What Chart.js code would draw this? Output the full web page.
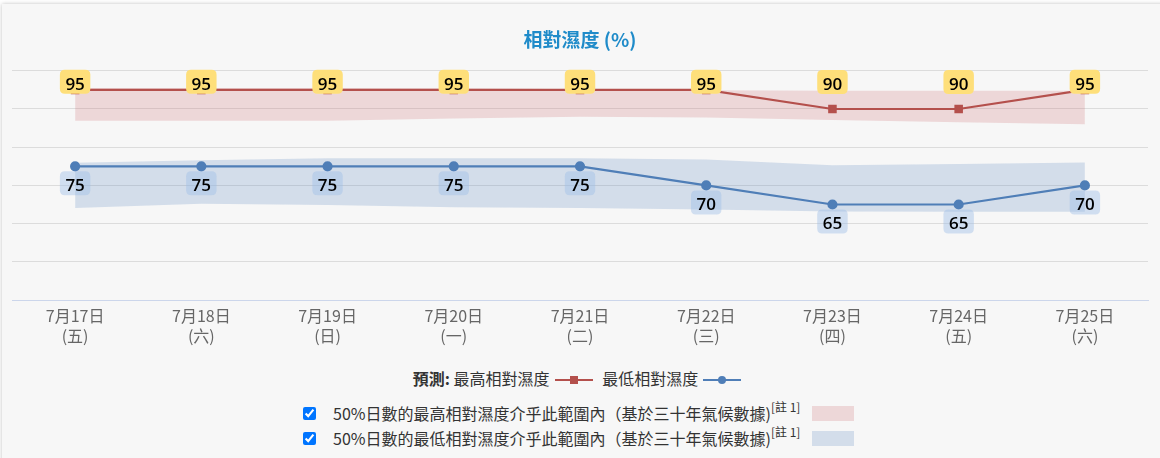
<!DOCTYPE html>
<html>
<head>
<meta charset="utf-8">
<script src="https://cdn.jsdelivr.net/npm/chart.js@4.4.1/dist/chart.umd.min.js"></script>
<style>
    body { margin: 0; background: #fff; width: 1160px; height: 458px; overflow: hidden; position: relative; font-family: "Noto Sans CJK TC", "Noto Sans", sans-serif; }
    #panel { position: absolute; left: 2px; top: 4px; width: 1200px; height: 480px; background: #f7f7f7; box-shadow: 0 0 4px rgba(0,0,0,0.25); }
    #chart-wrap { position: absolute; left: 0; top: 0; width: 1160px; height: 357px; }
    #legend-main { position: absolute; left: 0; top: 367px; width: 1160px; text-align: center; font-size: 16px; line-height: 22px; color: #333; }
    #legend-main b { font-weight: bold; }
    .sym { display: inline-block; position: relative; width: 38px; height: 2px; vertical-align: middle; margin: 0 6px 0 5px; top: -1px; }
    .sym i { position: absolute; left: 15px; top: -3px; width: 8px; height: 8px; }
    .sym.blue i { border-radius: 50%; }
    .band-row { position: absolute; left: 301px; height: 24px; font-size: 16px; line-height: 24px; color: #333; white-space: nowrap; }
    .band-row input { margin: 0 17px 0 2px; width: 13px; height: 13px; vertical-align: middle; position: relative; top: -2px; }
    .band-row sup { font-size: 12px; position: relative; top: -2px; }
    .swatch { display: inline-block; width: 42px; height: 15px; vertical-align: middle; margin-left: 12px; position: relative; top: -2px; }
</style>
</head>
<body>
<div id="panel"></div>
<div id="chart-wrap"><canvas id="rhChart" width="1160" height="357"></canvas></div>
<div id="legend-main">
    <b>預測:</b> 最高相對濕度<span class="sym red"><i></i></span> 最低相對濕度<span class="sym blue"><i></i></span>
</div>
<div class="band-row" style="top: 397px;"><input type="checkbox" checked>50%日數的最高相對濕度介乎此範圍內（基於三十年氣候數據)<sup>[註 1]</sup><span class="swatch" id="sw-max"></span></div>
<div class="band-row" style="top: 422px;"><input type="checkbox" checked>50%日數的最低相對濕度介乎此範圍內（基於三十年氣候數據)<sup>[註 1]</sup><span class="swatch" id="sw-min"></span></div>

<script>
const dates = ['7月17日', '7月18日', '7月19日', '7月20日', '7月21日', '7月22日', '7月23日', '7月24日', '7月25日'];
const weekdays = ['(五)', '(六)', '(日)', '(一)', '(二)', '(三)', '(四)', '(五)', '(六)'];

const maxRH = [95, 95, 95, 95, 95, 95, 90, 90, 95];
const minRH = [75, 75, 75, 75, 75, 70, 65, 65, 70];

// 50% climate ranges
const maxBandHigh = [95.5, 95.5, 95.5, 95.4, 95.2, 94.9, 94.8, 94.8, 94.8];
const maxBandLow = [86.9, 86.9, 86.9, 87.5, 88.0, 87.8, 87.1, 86.5, 86.0];
const minBandHigh = [75.9, 76.6, 77.1, 77.1, 77.1, 76.8, 75.3, 75.6, 76.0];
const minBandLow = [64.1, 65.2, 64.9, 64.3, 64.1, 63.7, 63.2, 63.1, 63.1];

const yTicks = [40, 50, 60, 70, 80, 90, 100];

const RED = '#b4504c';
const BLUE = '#4f7eb7';
const RED_BAND = 'rgba(200, 90, 95, 0.2)';
const BLUE_BAND = 'rgba(72, 122, 187, 0.2)';

document.querySelector('.sym.red').style.background = RED;
document.querySelector('.sym.red i').style.background = RED;
document.querySelector('.sym.blue').style.background = BLUE;
document.querySelector('.sym.blue i').style.background = BLUE;
document.getElementById('sw-max').style.background = RED_BAND;
document.getElementById('sw-min').style.background = BLUE_BAND;

function roundRect(ctx, x, y, w, h, r) {
    ctx.beginPath();
    ctx.moveTo(x + r, y);
    ctx.lineTo(x + w - r, y);
    ctx.quadraticCurveTo(x + w, y, x + w, y + r);
    ctx.lineTo(x + w, y + h - r);
    ctx.quadraticCurveTo(x + w, y + h, x + w - r, y + h);
    ctx.lineTo(x + r, y + h);
    ctx.quadraticCurveTo(x, y + h, x, y + h - r);
    ctx.lineTo(x, y + r);
    ctx.quadraticCurveTo(x, y, x + r, y);
    ctx.closePath();
}

// value boxes: yellow above the max line, light blue below the min line
const valueLabels = {
    id: 'valueLabels',
    afterDatasetsDraw(chart) {
        const ctx = chart.ctx;
        const top = chart.chartArea.top;
        ctx.save();
        ctx.font = '600 17px "Open Sans", "Noto Sans", sans-serif';
        ctx.textAlign = 'center';
        ctx.textBaseline = 'middle';
        chart.data.datasets.forEach((ds, i) => {
            if (!ds.valueBox) return;
            const meta = chart.getDatasetMeta(i);
            meta.data.forEach((pt, j) => {
                const txt = String(ds.data[j]);
                const w = ctx.measureText(txt).width + 11;
                let boxTop;
                if (ds.valueBox === 'above') {
                    boxTop = Math.max(pt.y - 39, top - 1);
                } else {
                    boxTop = pt.y + 5;
                }
                ctx.fillStyle = ds.valueBoxColor;
                roundRect(ctx, pt.x - w / 2, boxTop, w, 24, 5);
                ctx.fill();
                ctx.fillStyle = '#000';
                ctx.fillText(txt, pt.x, boxTop + 15);
            });
        });
        ctx.restore();
    }
};

const ctx = document.getElementById('rhChart').getContext('2d');
new Chart(ctx, {
    type: 'line',
    data: {
        labels: dates.map((d, i) => [d, weekdays[i]]),
        datasets: [
            {
                label: '最高相對濕度',
                data: maxRH,
                borderColor: RED,
                backgroundColor: RED,
                borderWidth: 2.2,
                pointStyle: 'rect',
                pointRadius: 4.5,
                fill: false,
                order: 1,
                valueBox: 'above',
                valueBoxColor: '#fedf7a'
            },
            {
                label: '最低相對濕度',
                data: minRH,
                borderColor: BLUE,
                backgroundColor: BLUE,
                borderWidth: 2.2,
                pointStyle: 'circle',
                pointRadius: 4,
                fill: false,
                order: 1,
                valueBox: 'below',
                valueBoxColor: 'rgba(160, 190, 230, 0.45)'
            },
            {
                label: 'maxBandHigh',
                data: maxBandHigh,
                borderWidth: 0,
                pointRadius: 0,
                backgroundColor: RED_BAND,
                fill: '+1',
                order: 10
            },
            {
                label: 'maxBandLow',
                data: maxBandLow,
                borderWidth: 0,
                pointRadius: 0,
                fill: false,
                order: 10
            },
            {
                label: 'minBandHigh',
                data: minBandHigh,
                borderWidth: 0,
                pointRadius: 0,
                backgroundColor: BLUE_BAND,
                fill: '+1',
                order: 10
            },
            {
                label: 'minBandLow',
                data: minBandLow,
                borderWidth: 0,
                pointRadius: 0,
                fill: false,
                order: 10
            }
        ]
    },
    options: {
        responsive: false,
        animation: false,
        devicePixelRatio: 1,
        layout: { padding: { left: 12, right: 12, top: 0, bottom: 5 } },
        plugins: {
            legend: { display: false },
            tooltip: { enabled: false },
            title: {
                display: true,
                text: '相對濕度 (%)',
                color: '#1f8bc9',
                font: { size: 19, weight: 'bold', family: '"Noto Sans CJK TC", "Noto Sans", sans-serif', lineHeight: 1.2 },
                padding: { top: 28, bottom: 20 }
            }
        },
        scales: {
            x: {
                offset: true,
                grid: { display: false, drawTicks: false },
                border: { display: true, color: '#ccd6eb', width: 1 },
                ticks: {
                    color: '#666',
                    padding: 6,
                    maxRotation: 0,
                    font: { size: 16, family: '"Noto Sans CJK TC", sans-serif', lineHeight: 1.25 }
                }
            },
            y: {
                min: yTicks[0],
                max: yTicks[yTicks.length - 1],
                afterBuildTicks: (scale) => { scale.ticks = yTicks.map(v => ({ value: v })); },
                grid: {
                    drawTicks: false,
                    color: (c) => c.tick && c.tick.value === yTicks[0] ? '#ccd6eb' : '#dcdcdc'
                },
                border: { display: false },
                ticks: { display: false }
            }
        }
    },
    plugins: [valueLabels]
});
</script>
</body>
</html>
